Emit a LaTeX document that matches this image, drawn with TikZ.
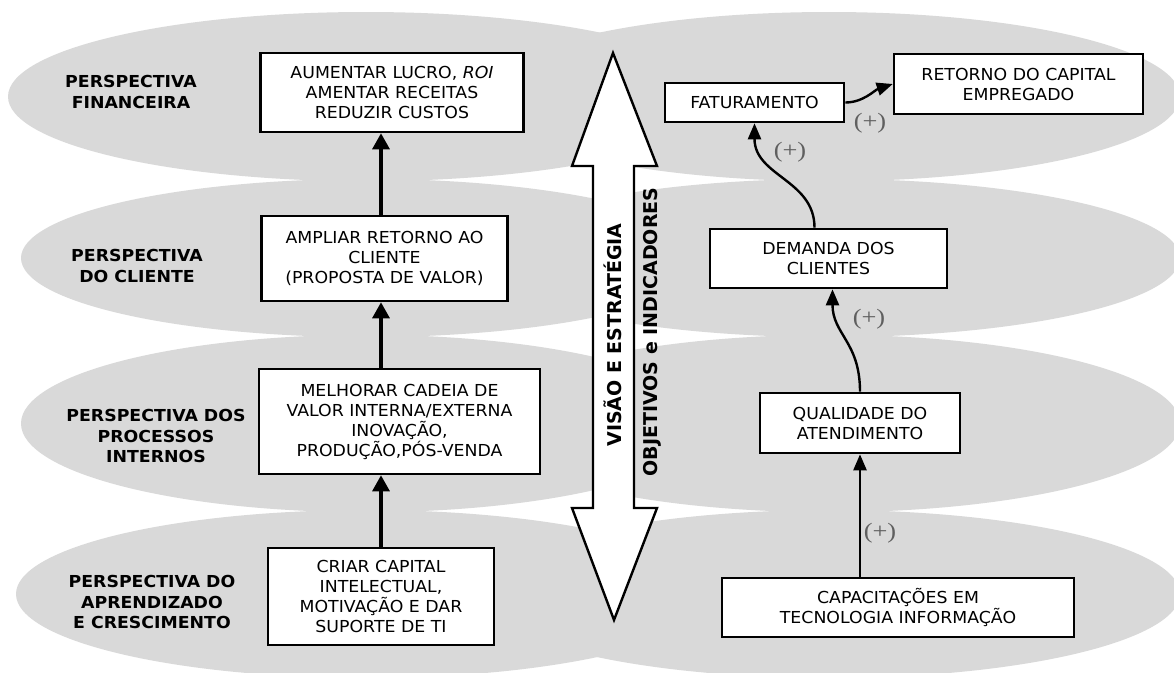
\documentclass[tikz,border=0pt]{standalone}
\usepackage{fontspec}
\setmainfont{DejaVu Sans}[FakeStretch=1.05]
\newfontfamily\vertfont{DejaVu Sans}
\newfontfamily\plusfont{Liberation Serif}[FakeStretch=1.2]
\usetikzlibrary{arrows.meta}
\definecolor{bandgray}{RGB}{217,217,217}
\definecolor{plusgray}{RGB}{95,95,95}

\begin{document}
\begin{tikzpicture}[
            x=1pt, y=-1pt,
            band/.style={fill=bandgray},
            box/.style={draw, line width=2.6pt, fill=white, align=center,
                inner sep=2pt, font=\fontsize{16.5}{20}\selectfont},
            persp/.style={align=center, font=\fontsize{16.5}{20.5}\selectfont\bfseries},
            axis/.style={rotate=90, font=\vertfont\fontsize{19}{22}\selectfont\bfseries},
            up/.style={line width=3.2pt, -{Triangle[width=17pt,length=16pt]}},
            link/.style={line width=2.4pt, -{Triangle[width=13pt,length=16pt]}},
            plus/.style={text=plusgray, font=\plusfont\fontsize{22}{22}\selectfont}
        ]
        \useasboundingbox (0,0) rectangle (1174,672);
        \clip (0,0) rectangle (1174,672);
        \fill[white] (0,0) rectangle (1174,672);
        % grey bands
        \foreach \cy/\b/\a in {96.6/84.6/358, 258/79.1/345, 423.5/88.7/345, 594/84/350} {
            \fill[band] (366,\cy) ellipse [x radius=\a, y radius=\b];
            \fill[band] (829,\cy) ellipse [x radius=351, y radius=\b];
        }
        \node[persp] (Pfin) at (131,92) {PERSPECTIVA\\FINANCEIRA};
        \node[persp] (Pcli) at (137,266) {PERSPECTIVA\\DO CLIENTE};
        \node[persp] (Pproc) at (156,436) {PERSPECTIVA DOS\\PROCESSOS\\INTERNOS};
        \node[persp] (Papr) at (152,602) {PERSPECTIVA DO\\APRENDIZADO\\E CRESCIMENTO};
        % left column
        \node[box, minimum width=263pt, minimum height=79pt] (Lfin) at (392,92.5)
            {AUMENTAR LUCRO, \textit{ROI}\\AMENTAR RECEITAS\\REDUZIR CUSTOS};
        \node[box, minimum width=246pt, minimum height=85pt] (Lcli) at (384.5,258.5)
            {AMPLIAR RETORNO AO\\CLIENTE\\(PROPOSTA DE VALOR)};
        \node[box, minimum width=281pt, minimum height=105pt] (Lproc) at (399.5,421.5)
            {MELHORAR CADEIA DE\\VALOR INTERNA/EXTERNA\\INOVAÇÃO,\\PRODUÇÃO,PÓS-VENDA};
        \node[box, minimum width=226pt, minimum height=97pt] (Lapr) at (381,596.5)
            {CRIAR CAPITAL\\INTELECTUAL,\\MOTIVAÇÃO E DAR\\SUPORTE DE TI};
        \foreach \a/\b in {Lapr/Lproc, Lproc/Lcli, Lcli/Lfin}
            \draw[up] (Lapr.north |- \a.north) -- (Lapr.north |- \b.south);
        % middle double arrow
        \draw[line width=2.4pt, fill=white] (613,53) -- (657,166) -- (634,166)
            -- (634,508) -- (657,508) -- (614,620) -- (572,508) -- (593,508)
            -- (593,166) -- (572,166) -- cycle;
        \node[axis] (Tvis) at (613,335) {VISÃO E ESTRATÉGIA};
        \node[axis] (Tobj) at (652,332) {OBJETIVOS e INDICADORES};
        % right column
        \node[box, minimum width=179pt, minimum height=39pt] (Rfat) at (754.5,102.5) {FATURAMENTO};
        \node[box, minimum width=249pt, minimum height=60pt] (Rret) at (1018.5,84)
            {RETORNO DO CAPITAL\\EMPREGADO};
        \node[box, minimum width=237pt, minimum height=59pt] (Rdem) at (828.5,258.5)
            {DEMANDA DOS\\CLIENTES};
        \node[box, minimum width=200pt, minimum height=60pt] (Rqual) at (860,423)
            {QUALIDADE DO\\ATENDIMENTO};
        \node[box, minimum width=352pt, minimum height=59pt] (Rcap) at (898,607.5)
            {CAPACITAÇÕES EM\\TECNOLOGIA INFORMAÇÃO};
        \draw[link] (Rcap.north -| Rqual.south) -- (Rqual.south);
        \draw[link] (Rqual.north) .. controls +(0,-50) and +(0,45) .. ([xshift=4pt]Rdem.south);
        \draw[link] ([xshift=-14pt]Rdem.north) .. controls +(0,-48) and +(0,53) .. (Rfat.south);
        \draw[link] (Rfat.east) .. controls +(18,0) and +(-18,6) .. (Rret.west);
        \node[plus] (Sret) at (870,123) {(+)};
        \node[plus] (Sfat) at (790,152) {(+)};
        \node[plus] (Sdem) at (869,319) {(+)};
        \node[plus] (Squal) at (880,533) {(+)};
\end{tikzpicture}
\end{document}
